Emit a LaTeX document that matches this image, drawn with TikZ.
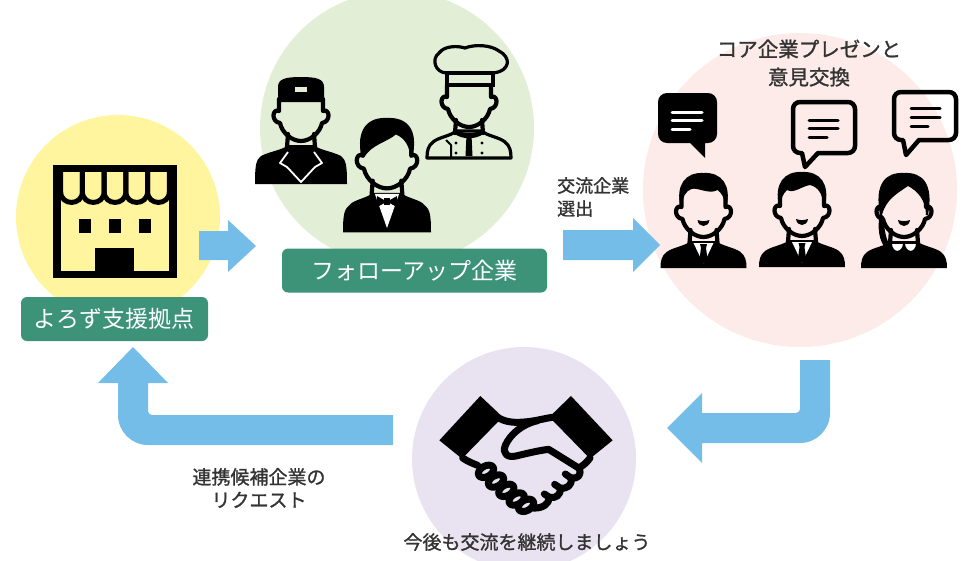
\documentclass[tikz,border=0pt]{standalone}
\usepackage{fontspec}
\newfontfamily\jp{Noto Sans CJK JP}
\newfontfamily\jpm[FakeBold=1.2]{Noto Sans CJK JP}
\definecolor{yellowbg}{HTML}{FEF59E}
\definecolor{greenbg}{HTML}{E2EED5}
\definecolor{pinkbg}{HTML}{FCEBE8}
\definecolor{purplebg}{HTML}{E9E2F0}
\definecolor{tagfill}{HTML}{3D9378}
\definecolor{flow}{HTML}{74BDE8}
\definecolor{ink}{HTML}{333333}

% face outline with ears and neck, head top at (0,0), chin at (0,64)
\newcommand\facelines{%
  \draw[iconline] (-22,22) -- (-22,34) .. controls (-29,31) and (-30,45) .. (-21,46)
    .. controls (-19,56) and (-9,64) .. (0,64) .. controls (9,64) and (19,56) .. (21,46)
    .. controls (30,45) and (29,31) .. (22,34) -- (22,22);
  \draw[iconline] (-13,57) .. controls (-13,63) .. (-14,70);
  \draw[iconline] (13,57) .. controls (13,63) .. (14,70);}
% shoulders: #1 path options, #2 half width, #3 bottom
\newcommand\suitshape[3]{%
  \path[#1] (-13,68) .. controls (-18,73) and (-30,74) .. ({-#2+6},79)
    .. controls ({-#2+1},83) and (-#2,88) .. (-#2,#3) -- (#2,#3)
    .. controls (#2,88) and ({#2-1},83) .. ({#2-6},79)
    .. controls (30,74) and (18,73) .. (13,68) -- cycle;}
\newcommand\grinmouth{%
  \fill (-6,47) .. controls (-5,55) and (5,55) .. (6,47) .. controls (2,48.5) and (-2,48.5) .. (-6,47) -- cycle;}

\tikzset{
  disc/.style={circle, inner sep=0pt, draw=none},
  tag/.style={rounded corners=6pt, fill=tagfill, text=white, inner sep=0pt,
    minimum height=44pt, font=\jp\fontsize{23}{26}\selectfont},
  note/.style={text=ink, inner sep=0pt},
  iconline/.style={line width=4.2pt, line join=round, line cap=round},
  man/.pic={
    \suitshape{fill=black}{43}{95}
    \fill[white] (-10,70) -- (10,70) -- (0,91) -- cycle;
    \fill (-3.5,71) -- (3.5,71) -- (2.5,75) -- (4,86) -- (0,91) -- (-4,86) -- (-2.5,75) -- cycle;
    \facelines
    \fill (-23,33) .. controls (-28,12) and (-18,-1) .. (0,0) .. controls (18,-1) and (28,12) .. (23,33)
      -- (21,33) .. controls (21,24) and (18,20) .. (14,17) .. controls (6,22) and (-6,14) .. (-12,16)
      .. controls (-18,18) and (-21,24) .. (-21,33) -- cycle;
    \grinmouth
  },
  mantwo/.pic={
    \suitshape{fill=black}{43}{95}
    \fill[white] (-10,70) -- (10,70) -- (0,91) -- cycle;
    \fill (-3.5,71) -- (3.5,71) -- (2.5,75) -- (4,86) -- (0,91) -- (-4,86) -- (-2.5,75) -- cycle;
    \facelines
    \fill (-23,33) .. controls (-28,12) and (-18,-1) .. (0,0) .. controls (18,-1) and (28,12) .. (23,33)
      -- (21,33) .. controls (21,22) and (16,15) .. (8,13) .. controls (0,14) and (-8,22) .. (-15,18)
      .. controls (-19,22) and (-21,26) .. (-21,33) -- cycle;
    \grinmouth
  },
  woman/.pic={
    \suitshape{fill=black}{43}{95}
    \facelines
    \filldraw[fill=white, draw=black, line width=1.5pt] (0,70) .. controls (-1,81) and (-12,82) .. (-13,70) -- cycle;
    \filldraw[fill=white, draw=black, line width=1.5pt] (0,70) .. controls (1,81) and (12,82) .. (13,70) -- cycle;
    \fill (-24,42) .. controls (-30,10) and (-18,-1) .. (0,0) .. controls (18,-1) and (30,10) .. (24,42)
      -- (22,42) .. controls (22,28) and (14,18) .. (4,13) .. controls (-6,20) and (-18,26) .. (-22,42) -- cycle;
    \fill (-24,40) .. controls (-27,55) and (-25,68) .. (-18,76) -- (-14,73)
      .. controls (-19,64) and (-20,54) .. (-20,44) -- cycle;
    \grinmouth
  },
  worker/.pic={
    \suitshape{fill=black}{46}{107}
    \draw[white, line width=1.8pt, line join=round] (-13,75) -- (-21,86) -- (-14,90) -- (0,105) -- (14,90) -- (21,86) -- (13,75);
    \facelines
    \fill (-23,25) -- (-23,10) .. controls (-23,2) and (-16,0) .. (0,0) .. controls (16,0) and (23,2) .. (23,10) -- (23,25) -- cycle;
    \fill[greenbg] (-6,10) rectangle (6,15);
  },
  waiter/.pic={
    \suitshape{fill=black}{40}{104}
    \fill[white] (-11,69) -- (11,69) -- (0,100) -- cycle;
    \fill (-9,71) -- (9,81) -- (9,71) -- (-9,81) -- cycle;
    \fill (-2.5,73) rectangle (2.5,79);
    \facelines
    \fill (-23,36) .. controls (-29,10) and (-17,-1) .. (0,0) .. controls (18,-1) and (29,10) .. (23,36)
      -- (21,36) .. controls (21,26) and (16,18) .. (8,15) .. controls (0,22) and (-14,24) .. (-21,36) -- cycle;
  },
  chef/.pic={
    \suitshape{fill=greenbg, draw=black, line width=3.2pt, line join=round}{42}{95}
    \draw[line width=5pt] (-13,69) .. controls (-5,74) and (5,74) .. (13,69);
    \fill (-2.5,72) -- (2.5,72) -- (3.5,93) -- (-3.5,93) -- cycle;
    \foreach \bx/\by in {-13/80,-13/90,13/80,13/90} \fill (\bx,\by) circle (1.6);
    \draw[line width=2pt, line join=round] (-23,77) -- (-18,82) -- (-18,94);
    \facelines
    \filldraw[fill=greenbg, draw=black, line width=3.2pt, line join=round]
      (-22,10) .. controls (-34,10) and (-38,-4) .. (-30,-10) .. controls (-24,-18) and (-10,-17) .. (-4,-15)
      .. controls (6,-19) and (22,-18) .. (30,-12) .. controls (42,-6) and (42,8) .. (24,10) -- cycle;
    \draw[line width=3.2pt] (-22,10) rectangle (24,22);
  },
}

\begin{document}
\begin{tikzpicture}[x=1pt, y=-1pt]
\useasboundingbox (0,0) rectangle (964,560);
\clip (0,0) rectangle (964,560);

% stage backgrounds
\node[disc, fill=yellowbg, minimum size=204pt] (shop) at (118,217) {};
\node[disc, fill=greenbg, minimum size=274pt] (follow) at (397,128) {};
\node[disc, fill=pinkbg, minimum size=314pt] (core) at (800,190) {};
\node[disc, fill=purplebg, minimum size=224pt] (bond) at (524,459) {};

% storefront
\begin{scope}[shift={(40,160)}, scale=1/3]
  \draw[line width=7.3pt] (51,26) rectangle (399,344);
  \foreach \i in {0,...,4} {
    \draw[line width=5pt] ({62+65.2*\i},30) -- ({62+65.2*\i},95)
      .. controls ({62+65.2*\i},138) and ({127.2+65.2*\i},138) .. ({127.2+65.2*\i},95) -- ({127.2+65.2*\i},30);
  }
  \fill (118,177) rectangle (152,218);
  \fill (208,177) rectangle (242,218);
  \fill (298,177) rectangle (332,218);
  \fill (165,265) rectangle (283,336);
\end{scope}

% follow-up staff
\pic (staffa) at (301,77) {worker};
\pic (staffc) at (469,63) {chef};
\pic[scale=1.1] (staffb) at (387,118) {waiter};

% presenters
\pic (prsa) at (703.5,173) {man};
\pic (prsb) at (802,172) {mantwo};
\pic (prsc) at (904,173) {woman};

% speech bubbles
\fill[rounded corners=9pt] (705,143) -- (717,143) -- (717,93) -- (658,93) -- (658,143)
  [sharp corners] -- (690,143) -- (705,158) -- cycle;
\draw[white, line width=3pt, line cap=round] (672,112) -- (702,112) (672,120) -- (702,120) (672,129) -- (690,129);
\draw[line width=4.5pt, line join=round, rounded corners=7pt] (818,153) -- (855,153) -- (855,102) -- (793,102) -- (793,153)
  [sharp corners] -- (802,153) -- (805,167) -- cycle;
\draw[line width=3pt, line cap=round] (809,120) -- (838,120) (809,128) -- (838,128) (809,137) -- (827,137);
\draw[line width=4.5pt, line join=round, rounded corners=7pt] (919,140) -- (956,140) -- (956,92) -- (894,92) -- (894,140)
  [sharp corners] -- (903,140) -- (906,155) -- cycle;
\draw[line width=3pt, line cap=round] (911,108) -- (940,108) (911,117) -- (940,117) (911,126) -- (928,126);

% handshake
\begin{scope}[shift={(436,392)}, scale=1/3, line width=7pt, line cap=round, line join=round]
  \fill (10,145) -- (133,12) -- (200,75) -- (78,200) -- cycle;
  \fill (530,145) -- (405,12) -- (340,75) -- (462,200) -- cycle;
  % back of the hands
  \draw (192,80) .. controls (215,92) and (240,92) .. (265,90) .. controls (295,88) and (322,80) .. (348,76);
  % thumb of the upper hand
  \draw (305,86) .. controls (258,96) and (222,128) .. (208,160) .. controls (198,185) and (215,198) .. (240,192)
    .. controls (270,185) and (305,176) .. (338,172) -- (428,228);
  % fingertips of the upper hand
  \draw (462,198) .. controls (452,212) and (440,222) .. (428,228)
    .. controls (440,248) and (425,262) .. (405,258)
    .. controls (410,280) and (392,292) .. (372,288)
    .. controls (376,310) and (358,320) .. (340,316)
    .. controls (340,335) and (320,350) .. (292,348);
  \draw (405,258) -- (388,246);
  \draw (372,288) -- (356,277);
  \draw (340,316) -- (325,306);
  % curled fingers of the lower hand
  \draw (80,198) .. controls (98,210) and (110,214) .. (125,220);
  \foreach \cx/\cy in {150/238, 180/267, 211/295, 242/321, 270/340}
    \draw (\cx,\cy) ellipse [x radius=25, y radius=16, rotate=30];
\end{scope}

% flow arrows
\fill[flow] (199,231) -- (228,231) -- (228,220) -- (256,246) -- (228,272) -- (228,260) -- (199,260) -- cycle;
\fill[flow] (563,230) -- (633,230) -- (633,218) -- (660,245) -- (633,272) -- (633,260) -- (563,260) -- cycle;
\fill[flow] (800,360) -- (830,360) [rounded corners=30pt] -- (830,443) [sharp corners] -- (702,443) -- (702,463)
  -- (667,428) -- (702,393) -- (702,413) [rounded corners=4pt] -- (800,413) [sharp corners] -- cycle;
\fill[flow] (393,445) [rounded corners=30pt] -- (118,445) [sharp corners] -- (118,383) -- (98,383) -- (133,347)
  -- (168,383) -- (148,383) [rounded corners=4pt] -- (148,415) [sharp corners] -- (393,415) -- cycle;

% stage tags
\node[tag, minimum width=187pt] (shoptag) at (114.5,319) {よろず支援拠点};
\node[tag, minimum width=265pt] (followtag) at (414.5,270.5) {フォローアップ企業};

% captions
\node[note, anchor=west, align=left, font=\jpm\fontsize{18}{23}\selectfont] (pick) at (557,197) {交流企業\\選出};
\node[note, align=center, font=\jpm\fontsize{20.5}{28}\selectfont] (pitch) at (809,63) {コア企業プレゼンと\\意見交換};
\node[note, align=center, font=\jpm\fontsize{19}{23}\selectfont] (ask) at (259,488) {連携候補企業の\\リクエスト};
\node[note, font=\jpm\fontsize{19}{23}\selectfont] (keep) at (527,542) {今後も交流を継続しましょう};
\end{tikzpicture}
\end{document}
